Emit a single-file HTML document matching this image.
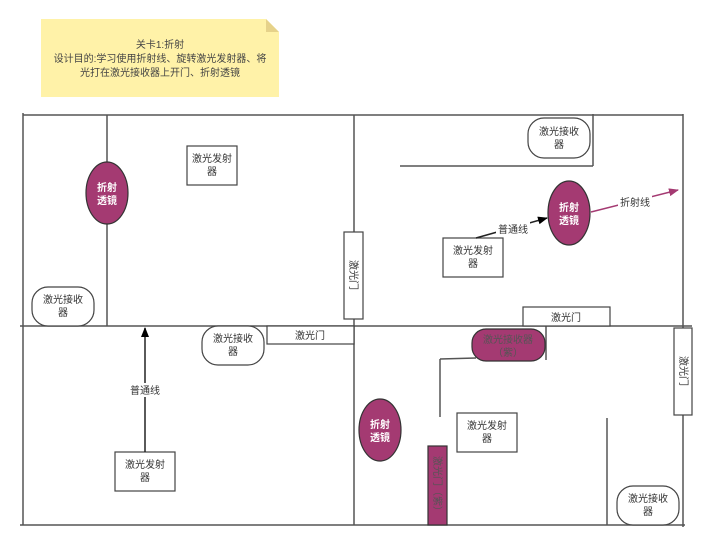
<!DOCTYPE html>
<html><head><meta charset="utf-8"><style>
html,body{margin:0;padding:0;background:#fff;}
svg{display:block;font-family:"Liberation Sans","Noto Sans CJK SC",sans-serif;}
</style></head><body>
<svg width="720" height="550" viewBox="0 0 720 550" xmlns="http://www.w3.org/2000/svg">
<defs>
<marker id="ab" markerWidth="10" markerHeight="10" refX="9" refY="5" orient="auto" markerUnits="userSpaceOnUse"><path d="M0,1 L10,5 L0,9 z" fill="#000"/></marker>
<marker id="ap" markerWidth="10" markerHeight="10" refX="9" refY="5" orient="auto" markerUnits="userSpaceOnUse"><path d="M0,1 L10,5 L0,9 z" fill="#a43a72"/></marker>
</defs>
<!-- sticky note -->
<path d="M41,19 L266,19 L279,32 L279,97 L41,97 z" fill="#fff2a8"/>
<path d="M266,19 L279,32 L266,32 z" fill="#e6d28a"/>
<g font-size="10" fill="#444" text-anchor="middle">
<text x="160" y="48">关卡1:折射</text>
<text x="160" y="62">设计目的:学习使用折射线、旋转激光发射器、将</text>
<text x="160" y="76">光打在激光接收器上开门、折射透镜</text>
</g>
<g stroke="#555" stroke-width="1.5" fill="none">
<line x1="23" y1="113" x2="23" y2="525"/>
<line x1="23" y1="115" x2="683" y2="115"/>
<line x1="683" y1="114" x2="683" y2="527"/>
<line x1="20" y1="326" x2="692" y2="326"/>
<line x1="20" y1="525" x2="685" y2="525"/>
<line x1="354" y1="115" x2="354" y2="525"/>
<line x1="107" y1="115" x2="107" y2="326"/>
<line x1="593" y1="114" x2="593" y2="166"/>
<line x1="400" y1="166" x2="593" y2="166"/>
<line x1="440" y1="417" x2="440" y2="359"/>
<line x1="440" y1="359" x2="476" y2="358"/>
<line x1="546" y1="326" x2="546" y2="360"/>
<line x1="607" y1="418" x2="607" y2="525"/>
</g>
<g stroke="#444" stroke-width="1.2" fill="#fff">
<rect x="187" y="146" width="50" height="39"/>
<rect x="32" y="287" width="62" height="39" rx="16"/>
<rect x="344" y="232" width="19" height="87"/>
<rect x="202" y="326" width="62" height="39" rx="16"/>
<rect x="267" y="326" width="87" height="18"/>
<rect x="115" y="452" width="60" height="39"/>
<rect x="528" y="118" width="62" height="40" rx="16"/>
<rect x="443" y="238" width="60" height="39"/>
<rect x="523" y="307" width="87" height="19"/>
<rect x="674" y="328" width="18" height="87"/>
<rect x="457" y="413" width="60" height="39"/>
<rect x="617" y="486" width="62" height="39" rx="16"/>
</g>
<g stroke="#333" stroke-width="1.2" fill="#a43a72">
<ellipse cx="107" cy="193" rx="21" ry="31"/>
<ellipse cx="569" cy="213" rx="21" ry="32"/>
<ellipse cx="380" cy="430" rx="21" ry="31"/>
<rect x="472" y="329" width="73" height="32" rx="14"/>
<rect x="428" y="446" width="19" height="79"/>
</g>
<line x1="145" y1="452" x2="145" y2="328" stroke="#222" stroke-width="1.5" marker-end="url(#ab)"/>
<line x1="476" y1="238" x2="547" y2="218" stroke="#222" stroke-width="1.5" marker-end="url(#ab)"/>
<line x1="591" y1="212" x2="678" y2="190" stroke="#a43a72" stroke-width="1.5" marker-end="url(#ap)"/>
<g font-size="10" fill="#333" text-anchor="middle">
<rect x="126" y="383" width="38" height="14" fill="#fff"/>
<text x="145" y="394">普通线</text>
<rect x="496" y="222" width="34" height="14" fill="#fff"/>
<text x="513" y="233">普通线</text>
<rect x="618" y="195" width="34" height="14" fill="#fff"/>
<text x="635" y="206">折射线</text>
<text x="212" y="162">激光发射</text><text x="212" y="175">器</text>
<text x="63" y="303">激光接收</text><text x="63" y="316">器</text>
<text x="233" y="342">激光接收</text><text x="233" y="355">器</text>
<text x="310" y="339">激光门</text>
<text x="145" y="468">激光发射</text><text x="145" y="481">器</text>
<text x="559" y="135">激光接收</text><text x="559" y="148">器</text>
<text x="473" y="254">激光发射</text><text x="473" y="267">器</text>
<text x="566" y="321">激光门</text>
<text x="487" y="429">激光发射</text><text x="487" y="442">器</text>
<text x="648" y="502">激光接收</text><text x="648" y="515">器</text>
<text x="508" y="343" fill="#555">激光接收器</text><text x="508" y="356" fill="#555">（紫）</text>
<text transform="translate(350,275) rotate(90)" x="0" y="0">激光门</text>
<text transform="translate(680,371) rotate(90)" x="0" y="0">激光门</text>
<text transform="translate(434,486) rotate(90)" x="0" y="0" fill="#555">激光门（紫）</text>
</g>
<g font-size="10" font-weight="bold" fill="#fff" text-anchor="middle">
<text x="107" y="191">折射</text><text x="107" y="204">透镜</text>
<text x="569" y="211">折射</text><text x="569" y="224">透镜</text>
<text x="380" y="428">折射</text><text x="380" y="441">透镜</text>
</g>
</svg>
</body></html>
